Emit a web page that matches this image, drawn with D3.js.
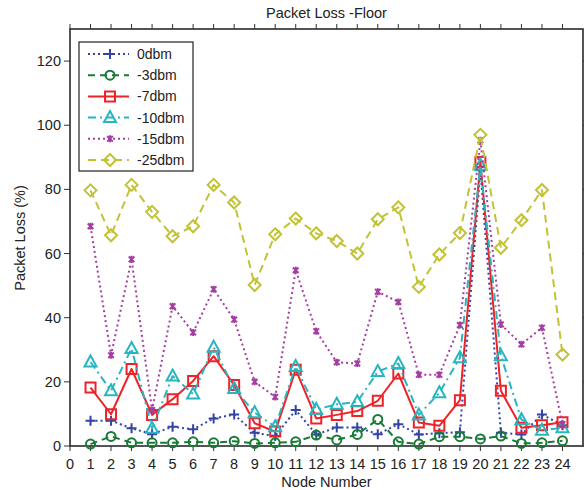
<!DOCTYPE html>
<html><head><meta charset="utf-8">
<script src="https://cdn.jsdelivr.net/npm/d3@7"></script>
<style>body{margin:0;background:#fff}svg{display:block}text{font-family:"Liberation Sans",Arial,sans-serif;fill:#222}</style>
</head><body>
<svg id="c" width="584" height="490"></svg>
<script>
const nodes = d3.range(1, 25);
const xTicks = d3.range(0, 25);
const yTicks = [0, 20, 40, 60, 80, 100, 120];
const seriesNames = ["0dbm", "-3dbm", "-7dbm", "-10dbm", "-15dbm", "-25dbm"];
const v0dbm  = [7.9, 7.9, 5.5, 3.7, 6.0, 5.2, 8.6, 9.8, 4.1, 3.1, 11.2, 3.6, 5.8, 5.8, 3.7, 6.8, 3.6, 4.0, 4.3, 86, 4.1, 3.6, 9.8, 6.5];
const v3dbm  = [0.6, 3.0, 1.0, 1.0, 1.0, 1.3, 1.0, 1.5, 0.8, 1.0, 1.3, 3.4, 1.9, 3.6, 8.3, 1.3, 0.6, 2.9, 2.9, 2.2, 3.1, 0.8, 1.0, 1.6];
const v7dbm  = [18.2, 9.9, 24.0, 9.7, 14.6, 20.3, 28.0, 19.0, 7.1, 4.5, 23.8, 8.6, 9.7, 10.9, 14.1, 22.6, 7.3, 6.3, 14.3, 88.5, 17.2, 5.7, 6.5, 7.4];
const v10dbm = [26.2, 17.2, 30.4, 5.5, 21.8, 16.2, 30.8, 17.9, 10.4, 6.0, 24.8, 11.4, 13.0, 13.8, 23.2, 25.7, 9.7, 16.6, 27.5, 87.5, 28.1, 8.2, 4.9, 5.7];
const v15dbm = [68.5, 28.3, 58.2, 11.2, 43.6, 35.4, 48.9, 39.4, 20.0, 15.3, 54.8, 35.8, 26.1, 25.7, 48.1, 44.9, 22.2, 22.2, 37.7, 95.3, 37.9, 31.7, 36.9, 6.8];
const v25dbm = [79.7, 65.7, 81.4, 73.0, 65.4, 68.5, 81.4, 75.9, 50.2, 66.0, 70.9, 66.3, 63.9, 60.0, 70.7, 74.4, 49.6, 59.7, 66.4, 97.0, 61.8, 70.4, 79.8, 28.5];
const seriesValues = [v0dbm, v3dbm, v7dbm, v10dbm, v15dbm, v25dbm];
const colors = ["#3344a6", "#187a36", "#ee2328", "#27b6c0", "#a53ea2", "#c2c236"];
const dashes = ["2,3", "7,5", null, "8,4,2,4", "2,3", "8,5"];
const markers = ["plus", "circle", "square", "triangle", "x", "diamond"];

const svg = d3.select("#c");
const L = 70, R = 583, T = 29, B = 446;
const x = d3.scaleLinear().domain([0, 25]).range([L, R]);
const y = d3.scaleLinear().domain([0, 130]).range([B, T]);

function markerPath(type) {
  switch (type) {
    case "plus": return "M-5,0H5M0,-5V5";
    case "circle": return "M-4.5,0A4.5,4.5 0 1,0 4.5,0A4.5,4.5 0 1,0 -4.5,0Z";
    case "square": return "M-5,-5H5V5H-5Z";
    case "triangle": return "M0,-6.5L6,4.5H-6Z";
    case "x": return "M-2.8,-2.8L2.8,2.8M-2.8,2.8L2.8,-2.8M0,-3.5V3.5";
    case "diamond": return "M0,-6L6,0L0,6L-6,0Z";
  }
}

// axes frame
const fr = svg.append("g");
fr.append("rect").attr("x", L).attr("y", T).attr("width", R - L).attr("height", B - T)
  .attr("fill", "none").attr("stroke", "#2a2a2a").attr("stroke-width", 1.6);

// ticks
xTicks.forEach(t => {
  fr.append("line").attr("x1", x(t)).attr("x2", x(t)).attr("y1", B).attr("y2", B + 5).attr("stroke", "#333").attr("stroke-width", 1);
  fr.append("line").attr("x1", x(t)).attr("x2", x(t)).attr("y1", T).attr("y2", T - 5).attr("stroke", "#333").attr("stroke-width", 1);
  fr.append("text").attr("x", x(t)).attr("y", 469).attr("text-anchor", "middle").attr("font-size", 14.5).text(t);
});
yTicks.forEach(t => {
  fr.append("line").attr("x1", L).attr("x2", L - 6).attr("y1", y(t)).attr("y2", y(t)).attr("stroke", "#333").attr("stroke-width", 1);
  fr.append("line").attr("x1", R).attr("x2", R + 5).attr("y1", y(t)).attr("y2", y(t)).attr("stroke", "#333").attr("stroke-width", 1);
  fr.append("text").attr("x", 61).attr("y", y(t) + 5).attr("text-anchor", "end").attr("font-size", 14.5).text(t);
});

// title & labels
svg.append("text").attr("x", (L + R) / 2).attr("y", 18).attr("text-anchor", "middle").attr("font-size", 14.5).text("Packet Loss -Floor");
svg.append("text").attr("x", (L + R) / 2).attr("y", 487).attr("text-anchor", "middle").attr("font-size", 14.5).text("Node Number");
svg.append("text").attr("transform", "translate(25," + 238 + ") rotate(-90)").attr("text-anchor", "middle").attr("font-size", 14.5).text("Packet Loss (%)");

// series
const line = d3.line().x((d, i) => x(nodes[i])).y(d => y(d));
const gS = svg.append("g");
seriesValues.forEach((vals, k) => {
  const g = gS.append("g");
  g.append("path").attr("d", line(vals)).attr("fill", "none").attr("stroke", colors[k])
    .attr("stroke-width", 2).attr("stroke-dasharray", dashes[k]).attr("stroke-linejoin", "round");
  g.selectAll("path.m").data(vals).join("path").attr("class", "m")
    .attr("transform", (d, i) => `translate(${x(nodes[i])},${y(d)})`)
    .attr("d", markerPath(markers[k])).attr("fill", "none").attr("stroke", colors[k]).attr("stroke-width", 2);
});

// legend
const lg = svg.append("g");
lg.append("rect").attr("x", 79).attr("y", 42).attr("width", 114).attr("height", 129)
  .attr("fill", "#fff").attr("stroke", "#222").attr("stroke-width", 1.2);
seriesNames.forEach((n, k) => {
  const yy = 54 + k * 21.2;
  lg.append("line").attr("x1", 88).attr("x2", 129).attr("y1", yy).attr("y2", yy)
    .attr("stroke", colors[k]).attr("stroke-width", 2).attr("stroke-dasharray", dashes[k]);
  lg.append("path").attr("transform", `translate(110,${yy})`).attr("d", markerPath(markers[k]))
    .attr("fill", "none").attr("stroke", colors[k]).attr("stroke-width", 2);
  lg.append("text").attr("x", 137).attr("y", yy + 5).attr("font-size", 14).text(n);
});
</script>
</body></html>
